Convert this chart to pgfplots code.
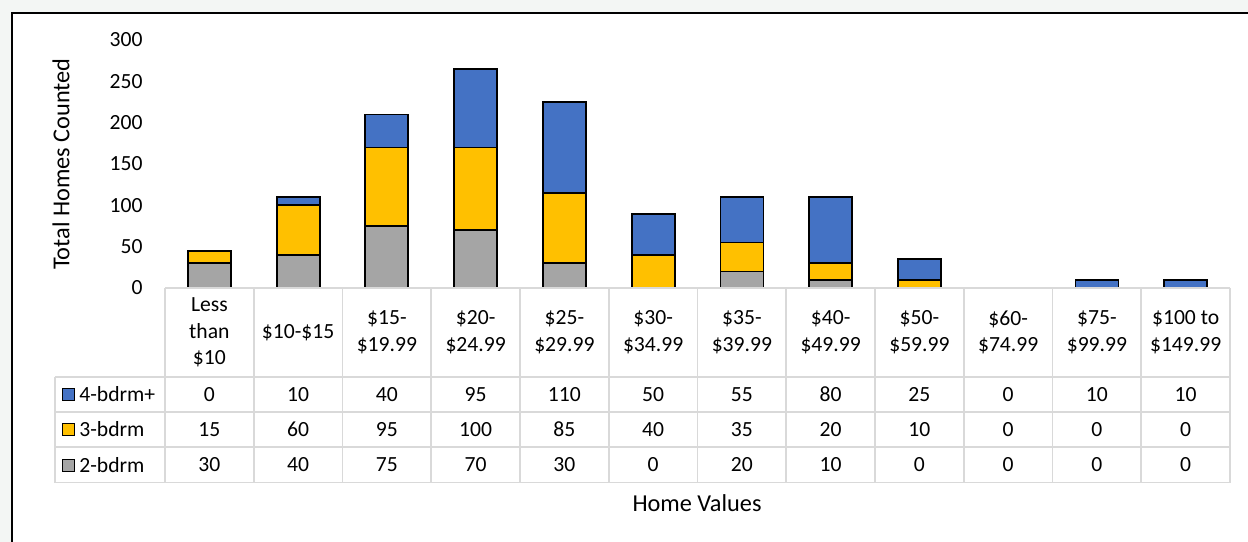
\documentclass[border=0pt]{standalone}
\usepackage{pgfplots}
\pgfplotsset{compat=1.18}
\usepackage{pgfplotstable}
\usepackage{fontspec}
\setmainfont{Carlito}
\definecolor{cfour}{HTML}{4472C4}
\definecolor{cthree}{HTML}{FFC000}
\definecolor{ctwo}{HTML}{A5A5A5}
\definecolor{gridc}{HTML}{D9D9D9}
\definecolor{bgc}{HTML}{F3F6F4}
\newcommand{\fs}{\fontsize{10.85}{13.4}\selectfont}
\newcommand{\ft}{\fontsize{12.2}{14.6}\selectfont}

\pgfplotstableread{
x two three four
0 30 15 0
1 40 60 10
2 75 95 40
3 70 100 95
4 30 85 110
5 0 40 50
6 20 35 55
7 10 20 80
8 0 10 25
9 0 0 0
10 0 0 10
11 0 0 10
}\datatable

\begin{document}
\begin{tikzpicture}
\begin{scope}[x=0.5bp,y=-0.5bp]
\useasboundingbox (0,0) rectangle (1248,542);
\fill[bgc] (0,0) rectangle (1248,542);
\fill[white] (12,13) rectangle (1248,542);
\draw[black, line width=1bp] (12,542) -- (12,13) -- (1248,13);
\end{scope}

\begin{axis}[
  at={(82.5bp,-144bp)}, anchor=south west,
  scale only axis, width=532.5bp, height=124bp,
  xmin=-0.5, xmax=11.5, ymin=0, ymax=300,
  ytick={0,50,...,300},
  xtick={0,...,11},
  xticklabels={{Less\\than\\\$10},{\$10-\$15},{\$15-\\\$19.99},{\$20-\\\$24.99},{\$25-\\\$29.99},{\$30-\\\$34.99},{\$35-\\\$39.99},{\$40-\\\$49.99},{\$50-\\\$59.99},{\$60-\\\$74.99},{\$75-\\\$99.99},{\$100 to\\\$149.99}},
  axis line style={draw=none},
  tick style={draw=none},
  major tick length=0pt,
  /pgf/number format/assume math mode=true,
  yticklabel style={font=\fs, anchor=east, inner sep=0pt, xshift=-11bp},
  xticklabel style={font=\fs, align=center, anchor=center, inner sep=0pt, yshift=-22.25bp},
  ybar, bar width=21.5bp,
  clip=false,
  unbounded coords=discard,
  y filter/.expression={y==0 ? nan : y},
]
\addplot[fill=cfour, draw=black, line width=0.9bp, bar shift=0pt] table[x=x, y expr=\thisrow{two}+\thisrow{three}+\thisrow{four}]{\datatable};
\addplot[fill=cthree, draw=black, line width=0.9bp, bar shift=0pt] table[x=x, y expr=\thisrow{two}+\thisrow{three}]{\datatable};
\addplot[fill=ctwo, draw=black, line width=0.9bp, bar shift=0pt] table[x=x, y=two]{\datatable};
\end{axis}

\begin{scope}[x=0.5bp,y=-0.5bp]
% table grid
\begin{scope}[draw=gridc, line width=0.8bp]
\foreach \k in {0,...,12} \draw ({165+88.75*\k},288) -- ({165+88.75*\k},482.5);
\draw (165,288) -- (1230,288);
\foreach \yy in {377,412,447,482.5} \draw (55,\yy) -- (1230,\yy);
\draw (55,377) -- (55,482.5);
\end{scope}
% legend keys
\draw[fill=cfour, line width=0.5bp] (62,388.5) rectangle (74,400.5);
\node[font=\fs, anchor=west, inner sep=0pt] at (79,394.5) {4-bdrm+};
\draw[fill=cthree, line width=0.5bp] (62,423.5) rectangle (74,435.5);
\node[font=\fs, anchor=west, inner sep=0pt] at (79,429.5) {3-bdrm};
\draw[fill=ctwo, line width=0.5bp] (62,459) rectangle (74,471);
\node[font=\fs, anchor=west, inner sep=0pt] at (79,465) {2-bdrm};
% table values
\foreach \i in {0,...,11}{
  \pgfplotstablegetelem{\i}{four}\of\datatable
  \node[font=\fs, inner sep=0pt] at ({209.375+88.75*\i},394.5) {\pgfplotsretval};
  \pgfplotstablegetelem{\i}{three}\of\datatable
  \node[font=\fs, inner sep=0pt] at ({209.375+88.75*\i},429.5) {\pgfplotsretval};
  \pgfplotstablegetelem{\i}{two}\of\datatable
  \node[font=\fs, inner sep=0pt] at ({209.375+88.75*\i},465) {\pgfplotsretval};
}
% axis titles
\node[font=\ft, rotate=90] at (61,164) {Total Homes Counted};
\node[font=\ft] at (697,503) {Home Values};
\end{scope}
\end{tikzpicture}
\end{document}
